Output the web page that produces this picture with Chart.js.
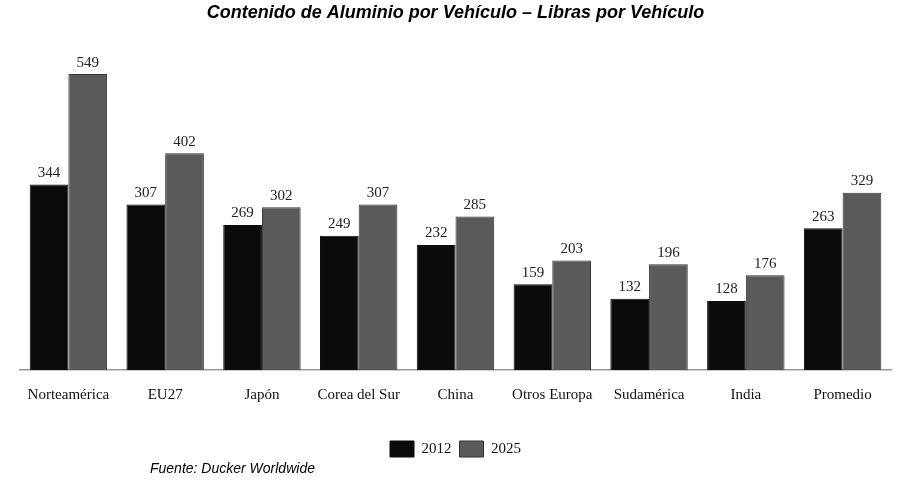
<!DOCTYPE html>
<html>
<head>
<meta charset="utf-8">
<script src="https://cdn.jsdelivr.net/npm/chart.js@4"></script>
<style>
  html, body { margin: 0; padding: 0; background: #fff; }
  #wrap { width: 906px; height: 482px; }
</style>
</head>
<body>
<div id="wrap"><canvas id="chart" width="906" height="482"></canvas></div>
<script>
// datos
const regiones = ["Norteamérica", "EU27", "Japón", "Corea del Sur", "China", "Otros Europa", "Sudamérica", "India", "Promedio"];
const valores2012 = [344, 307, 269, 249, 232, 159, 132, 128, 263];
const valores2025 = [549, 402, 302, 307, 285, 203, 196, 176, 329];
const fuente = "Fuente: Ducker Worldwide";

// etiquetas de valor sobre las barras
const valueLabels = {
  id: "valueLabels",
  afterDatasetsDraw(chart) {
    const ctx = chart.ctx;
    ctx.save();
    ctx.font = "15px 'Liberation Serif', 'Times New Roman', serif";
    ctx.fillStyle = "#222";
    ctx.textAlign = "center";
    ctx.textBaseline = "bottom";
    chart.data.datasets.forEach((ds, i) => {
      chart.getDatasetMeta(i).data.forEach((bar, j) => {
        ctx.fillText(ds.data[j], bar.x, bar.y - 4);
      });
    });
    ctx.restore();
  }
};

// nota de fuente
const sourceNote = {
  id: "sourceNote",
  afterDraw(chart) {
    const ctx = chart.ctx;
    ctx.save();
    ctx.font = "italic 14px 'Liberation Sans', Arial, sans-serif";
    ctx.fillStyle = "#000";
    ctx.textAlign = "left";
    ctx.textBaseline = "middle";
    ctx.fillText(fuente, 150, 469);
    ctx.restore();
  }
};

new Chart(document.getElementById("chart"), {
  type: "bar",
  data: {
    labels: regiones,
    datasets: [
      {
        label: "2012",
        data: valores2012,
        backgroundColor: "#0b0b0b",
        borderColor: "#0b0b0b",
        borderWidth: 1,
      },
      {
        label: "2025",
        data: valores2025,
        backgroundColor: "#5a5a5a",
        borderColor: "#333",
        borderWidth: 1,
      },
    ],
  },
  options: {
    responsive: false,
    animation: false,
    layout: { padding: { left: 20, right: 15, bottom: 15 } },
    categoryPercentage: 0.8,
    barPercentage: 1.0,
    scales: {
      x: {
        grid: { display: false, drawTicks: false },
        border: { color: "#999", width: 1.5 },
        ticks: {
          color: "#111",
          padding: 16,
          font: { family: "'Liberation Serif', 'Times New Roman', serif", size: 15 },
        },
        afterFit(scale) {
          scale.height += 13; // espacio extra hasta la leyenda
        },
      },
      y: {
        display: false,
        min: 0,
        max: 600,
      },
    },
    plugins: {
      title: {
        display: true,
        text: "Contenido de Aluminio por Vehículo – Libras por Vehículo",
        color: "#000",
        font: { family: "'Liberation Sans', Arial, sans-serif", size: 18, weight: "bold", style: "italic" },
        padding: { top: 2, bottom: 23 },
      },
      legend: {
        position: "bottom",
        labels: {
          boxWidth: 24,
          boxHeight: 16,
          color: "#111",
          padding: 8,
          font: { family: "'Liberation Serif', 'Times New Roman', serif", size: 15 },
        },
      },
      tooltip: { enabled: false },
    },
  },
  plugins: [valueLabels, sourceNote],
});
</script>
</body>
</html>
